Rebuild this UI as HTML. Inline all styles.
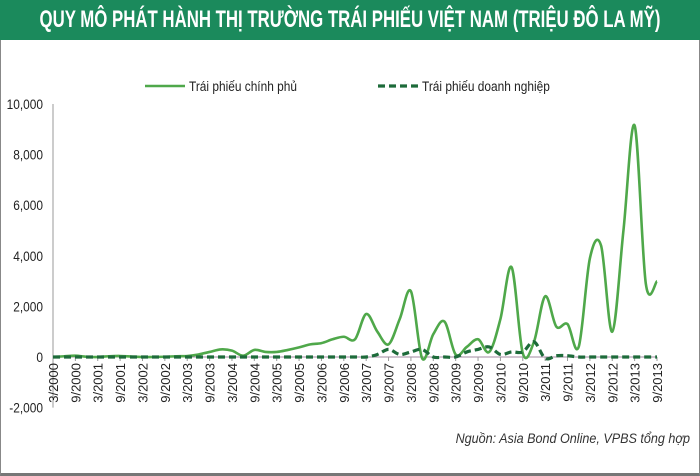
<!DOCTYPE html>
<html><head><meta charset="utf-8">
<style>
body{margin:0;width:700px;height:475px;overflow:hidden;background:#fff;font-family:"Liberation Sans",sans-serif}
#frame{position:absolute;left:0;top:0;width:698px;height:472px;border:1px solid #888;border-bottom:3px solid #777}
#title{position:absolute;left:0;top:0;width:700px;height:40px;background:#1b8a5c;overflow:hidden}
#title span{position:absolute;left:350px;top:0;white-space:nowrap;color:#fff;font:bold 24px "Liberation Sans",sans-serif;line-height:40px;transform:translateX(-50%) scaleX(0.7);transform-origin:center}
svg{position:absolute;left:0;top:0}
</style></head><body>
<div id="frame"></div>
<div id="title"><span>QUY MÔ PHÁT HÀNH THỊ TRƯỜNG TRÁI PHIẾU VIỆT NAM (TRIỆU ĐÔ LA MỸ)</span></div>
<svg id="chart" width="700" height="475"></svg>
<script>
const yTicks=[10000,8000,6000,4000,2000,0,-2000];
const yTickLabels=["10,000","8,000","6,000","4,000","2,000","0","-2,000"];
const xLabels=["3/2000","9/2000","3/2001","9/2001","3/2002","9/2002","3/2003","9/2003","3/2004","9/2004","3/2005","9/2005","3/2006","9/2006","3/2007","9/2007","3/2008","9/2008","3/2009","9/2009","3/2010","9/2010","3/2011","9/2011","3/2012","9/2012","3/2013","9/2013"];
const govBonds=[0,30,50,10,0,30,40,20,0,0,10,30,40,100,200,300,250,50,280,200,200,280,380,500,550,700,800,700,1700,1000,500,1500,2600,-50,900,1400,100,400,700,200,1500,3550,150,600,2400,1200,1300,400,3900,4400,1000,5000,9150,2900,3000];
const corpBonds=[0,0,0,0,0,0,0,0,0,0,0,0,0,0,0,0,0,0,0,0,0,0,0,0,0,0,0,0,0,100,300,100,200,300,0,0,0,200,300,400,100,200,200,600,-50,50,50,0,0,0,0,0,0,0,0];
const NS="http://www.w3.org/2000/svg";
const svg=document.getElementById('chart');
const x0=53,x1=657,yTop=104,yZero=357;
const ppu=(yZero-yTop)/10000;
const y=v=>yZero-v*ppu;
const xi=i=>x0+i*(x1-x0)/(govBonds.length-1);
function mk(t,a){const e=document.createElementNS(NS,t);for(const k in a)e.setAttribute(k,a[k]);svg.appendChild(e);return e;}
let ax=mk('line',{x1:x0,x2:x0,y1:yTop,y2:y(-2000),stroke:'#999','stroke-width':1});


yTicks.forEach((v,k)=>{const t=mk('text',{x:0,y:0,transform:`translate(${x0-10},${y(v)+5}) scale(0.85,1)`,'text-anchor':'end','font-size':14,fill:'#222'});t.textContent=yTickLabels[k];

});
let xa=mk('line',{x1:x0,x2:x1,y1:yZero,y2:yZero,stroke:'#a08aa0','stroke-width':1});


xLabels.forEach((l,k)=>{const xx=x0+k*(x1-x0)/(xLabels.length-1);
mk('line',{x1:xx,x2:xx,y1:yZero,y2:yZero+4,stroke:'#999'});
const t=mk('text',{x:0,y:0,transform:`translate(${xx+5},${yZero+6}) rotate(-90)`,'text-anchor':'end','font-size':13,fill:'#222'});t.textContent=l;

});
function smooth(vals){const p=vals.map((v,i)=>[xi(i),y(v)]);let d=`M${p[0][0]},${p[0][1]}`;
for(let i=0;i<p.length-1;i++){const a=p[Math.max(0,i-1)],b=p[i],c=p[i+1],e=p[Math.min(p.length-1,i+2)];
d+=` C${b[0]+(c[0]-a[0])/6},${b[1]+(c[1]-a[1])/6} ${c[0]-(e[0]-b[0])/6},${c[1]-(e[1]-b[1])/6} ${c[0]},${c[1]}`;}return d;}
let g=mk('path',{d:smooth(govBonds),fill:'none',stroke:'#4fa84a','stroke-width':2.6});


let c=mk('path',{d:smooth(corpBonds),fill:'none',stroke:'#1d6b3a','stroke-width':3.2,'stroke-dasharray':'7,4'});


mk('line',{x1:145,x2:185,y1:86,y2:86,stroke:'#4fa84a','stroke-width':2.6});
let l1=mk('text',{x:0,y:0,transform:'translate(189,91) scale(0.85,1)','font-size':14,fill:'#222'});l1.textContent='Trái phiếu chính phủ';


mk('line',{x1:378,x2:418,y1:86,y2:86,stroke:'#1d6b3a','stroke-width':3.2,'stroke-dasharray':'7,4'});
let l2=mk('text',{x:0,y:0,transform:'translate(422,91) scale(0.85,1)','font-size':14,fill:'#222'});l2.textContent='Trái phiếu doanh nghiệp';


let s=mk('text',{x:0,y:0,transform:'translate(690,443) scale(0.9,1)','text-anchor':'end','font-size':14,'font-style':'italic',fill:'#333'});s.textContent='Nguồn: Asia Bond Online, VPBS  tổng hợp';


</script>
</body></html>
